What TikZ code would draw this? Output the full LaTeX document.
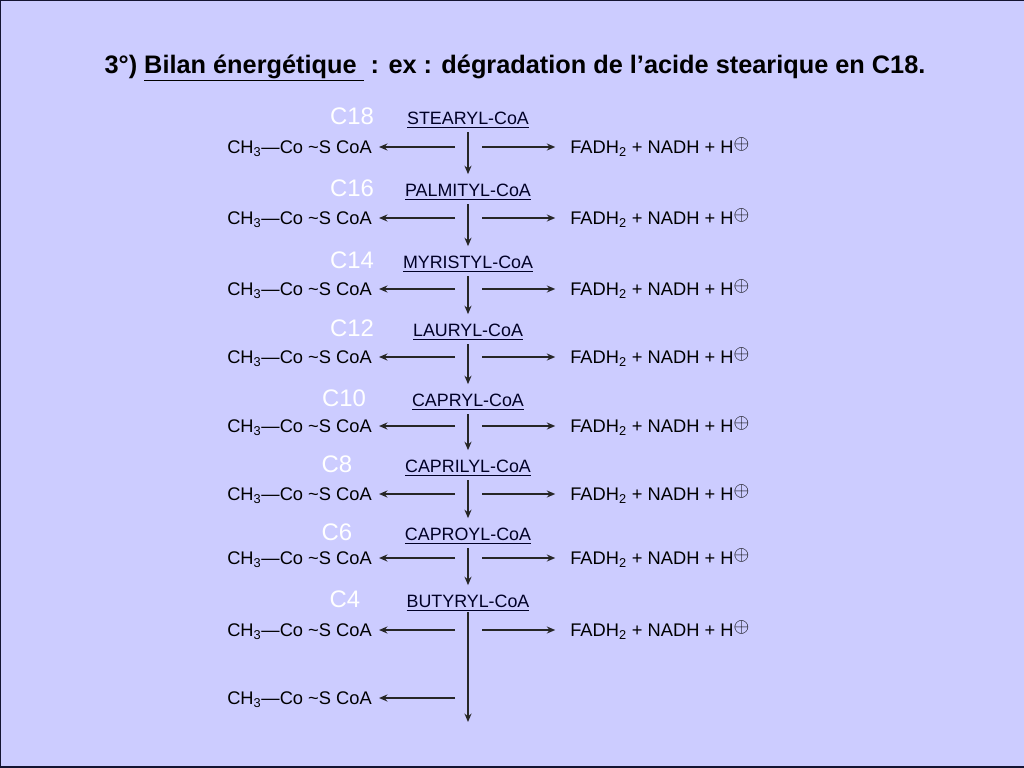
\documentclass[tikz,border=0pt]{standalone}
\usepackage{fontspec}
\setmainfont{Liberation Sans}
\usetikzlibrary{arrows.meta}
\definecolor{fond}{RGB}{204,204,255}
\definecolor{cadre}{RGB}{20,20,50}
\begin{document}
\begin{tikzpicture}[x=0.025cm,y=-0.025cm,>={Stealth[length=6pt,width=5pt]}, line join=round,
		txt/.style={font=\fontsize{13}{15}\selectfont, inner sep=0pt},
		acyl/.style={font=\fontsize{12.7}{15}\selectfont, inner sep=1pt, text=black!85!blue},
		clab/.style={font=\fontsize{17}{20}\selectfont, text=white, inner sep=0pt},
		fl/.style={->, line width=1pt, color=black!85}]
			\def\xn{468} \def\xl{372} \def\xr{570}
			\useasboundingbox (0,0) rectangle (1024,768);
			\fill[fond] (0,0) rectangle (1024,768);
			\draw[cadre,line width=2pt] (0,768)--(0,0)--(1024,0);
			\draw[cadre,line width=2pt] (0,767)--(1024,767);
			\node[font=\fontsize{18}{21}\selectfont\bfseries, inner sep=0pt] (titre) at (515,68)
			{3°) \underline{Bilan énergétique\ } : ex : dégradation de l’acide stearique en C18.};
			\foreach \i/\nm/\cc/\cx/\ny/\ry in {
				1/STEARYL-CoA/C18/352/120/147,
				2/PALMITYL-CoA/C16/352/192/218,
				3/MYRISTYL-CoA/C14/352/264/289,
				4/LAURYL-CoA/C12/352/332/357,
				5/CAPRYL-CoA/C10/344/402/426,
				6/CAPRILYL-CoA/C8/337/468/494,
				7/CAPROYL-CoA/C6/337/536/558,
				8/BUTYRYL-CoA/C4/345/603/630}
			{
				\node[acyl] (n\i) at (\xn,\ny) {\underline{\nm}};
				\node[clab] (c\i) at (\cx,\ny-4) {\cc};
				\node[txt,anchor=base east] (l\i) at (\xl,\ry+6) {CH\textsubscript{3}---Co \textasciitilde S CoA};
				\node[txt,anchor=base west] (r\i) at (\xr,\ry+6) {FADH\textsubscript{2} + NADH + H\raisebox{0.4ex}{\Large$\oplus$}};
				\coordinate (a\i) at (455,\ry);
				\coordinate (b\i) at (482,\ry);
				\draw[fl] (a\i) -- (a\i -| l\i.east) [shorten >=5pt];
				\draw[fl] (b\i) -- (b\i -| r\i.west) [shorten >=10.5pt];
			}
			\node[txt,anchor=base east] (l9) at (\xl,704) {CH\textsubscript{3}---Co \textasciitilde S CoA};
			\coordinate (a9) at (455,698);
			\draw[fl] (a9) -- (a9 -| l9.east) [shorten >=5pt];
			\coordinate (fin) at (\xn,722);
			\foreach \i [evaluate=\i as \j using int(\i+1)] in {1,...,7}
				\draw[fl] (n\i.south) -- (n\j.north) [shorten <=2pt, shorten >=6pt];
			\draw[fl] (n8.south) -- (fin);
		\end{tikzpicture}
\end{document}
